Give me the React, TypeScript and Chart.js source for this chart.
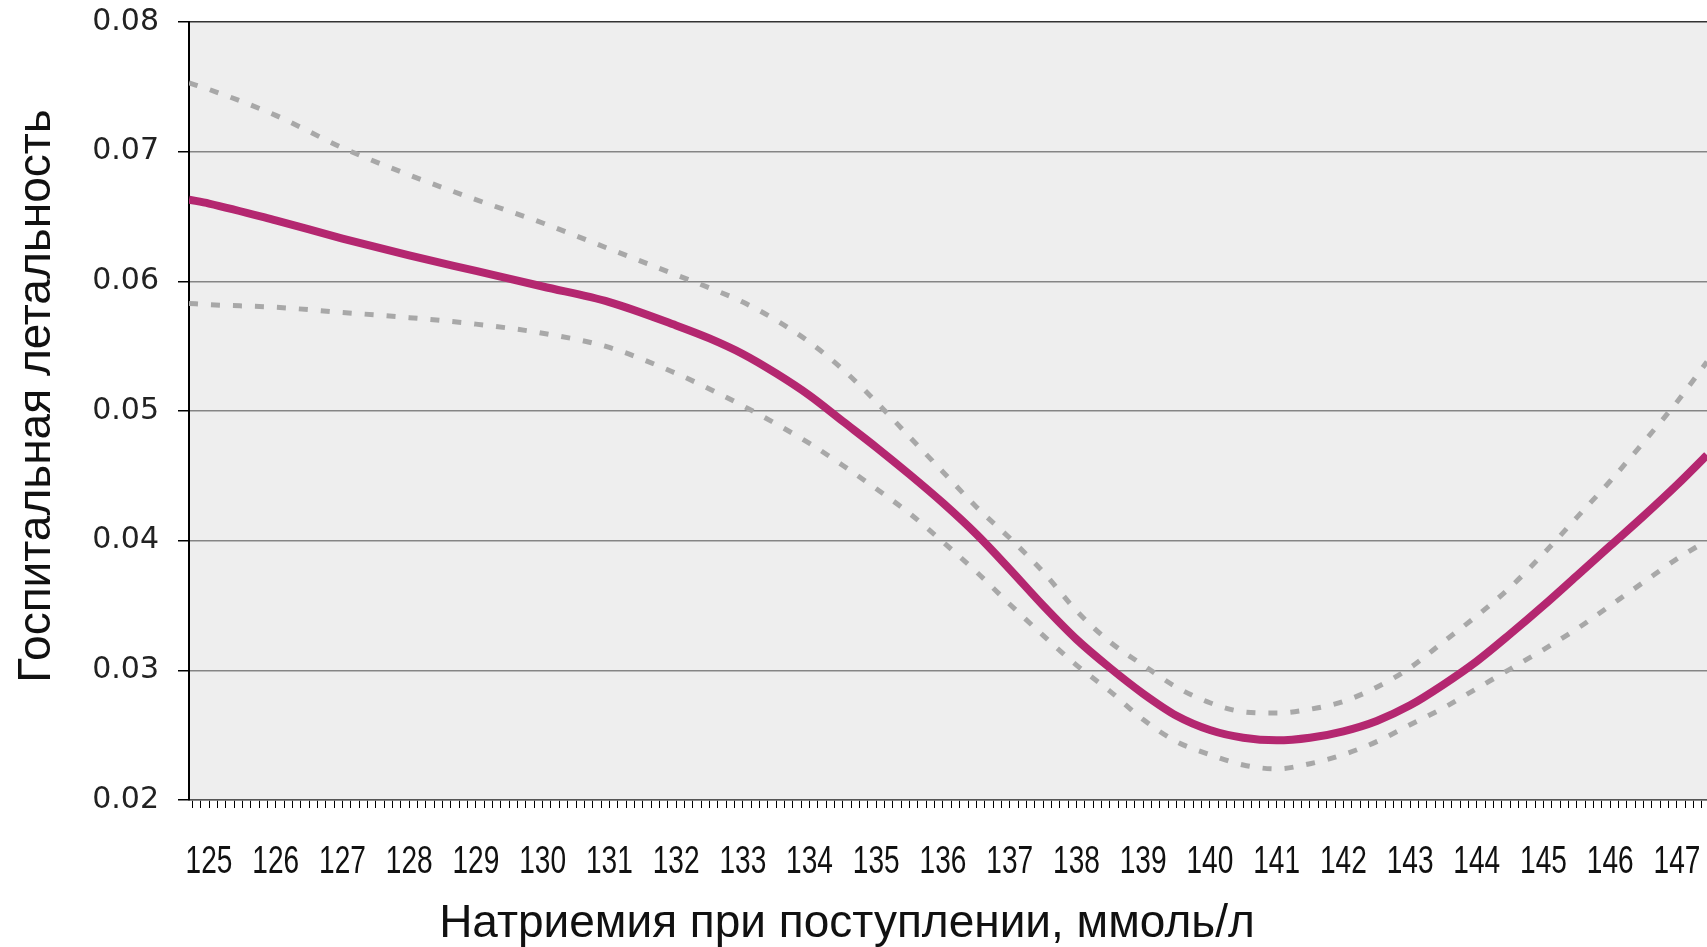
import React, { useEffect, useRef } from "react";
import { Chart, registerables } from "chart.js";

Chart.register(...registerables);

// Sodium at admission, mmol/L
const sodium = [
  124.7, 125, 126, 127, 128, 129, 130, 131, 132, 132.5, 133, 133.5, 134, 134.5,
  135, 135.5, 136, 136.5, 137, 137.5, 138, 138.5, 139, 139.5, 140, 140.5, 141,
  141.5, 142, 142.5, 143, 143.5, 144, 144.5, 145, 145.5, 146, 146.5, 147, 147.45,
];

// Hospital mortality (estimate)
const mortality = [
  0.0663, 0.066, 0.0647, 0.0633, 0.062, 0.0608, 0.0596, 0.0584, 0.0566, 0.0556,
  0.0544, 0.0529, 0.0512, 0.0492, 0.0472, 0.0451, 0.0429, 0.0405, 0.0378, 0.035,
  0.0324, 0.0302, 0.0282, 0.0265, 0.0254, 0.0248, 0.0246, 0.0248, 0.0253, 0.0261,
  0.0273, 0.0289, 0.0307, 0.0328, 0.035, 0.0373, 0.0396, 0.0419, 0.0443, 0.0466,
];

// Upper confidence bound
const upperCI = [
  0.0753, 0.0748, 0.0728, 0.0703, 0.0682, 0.0663, 0.0645, 0.0625, 0.0605, 0.0595,
  0.0584, 0.057, 0.0553, 0.0532, 0.0507, 0.048, 0.0453, 0.0426, 0.0402, 0.0376,
  0.0346, 0.0322, 0.0304, 0.0287, 0.0275, 0.0268, 0.0267, 0.027, 0.0276, 0.0287,
  0.0302, 0.0322, 0.0342, 0.0364, 0.039, 0.0418, 0.0446, 0.0476, 0.0507, 0.0538,
];

// Lower confidence bound
const lowerCI = [
  0.0583, 0.0582, 0.058, 0.0576, 0.0572, 0.0567, 0.056, 0.0549, 0.0529, 0.0517,
  0.0504, 0.049, 0.0475, 0.0458, 0.044, 0.0421, 0.0399, 0.0376, 0.0351, 0.0327,
  0.0304, 0.0284, 0.0262, 0.0245, 0.0235, 0.0227, 0.0224, 0.0228, 0.0235, 0.0245,
  0.0258, 0.0271, 0.0286, 0.0301, 0.0316, 0.0332, 0.035, 0.0368, 0.0386, 0.04,
];

// Labelled x ticks
const xTickLabels = [
  125, 126, 127, 128, 129, 130, 131, 132, 133, 134, 135, 136, 137, 138, 139, 140,
  141, 142, 143, 144, 145, 146, 147,
];

const xMin = 124.7;
const xMax = 147.45;
const yMin = 0.02;
const yMax = 0.08;
const yStep = 0.01;
const xMinorStep = 0.125;

const xTitle = "Натриемия при поступлении, ммоль/л";
const yTitle = "Госпитальная летальность";

const toPoints = (ys: number[]) => sodium.map((x, i) => ({ x, y: ys[i] }));

const decorPlugin = {
  id: "decor",
  beforeDraw(chart: any) {
    const { ctx, chartArea: a } = chart;
    ctx.save();
    ctx.fillStyle = "#eeeeee";
    ctx.fillRect(a.left, a.top, a.right - a.left, a.bottom - a.top);
    ctx.restore();
  },
  afterDraw(chart: any) {
    const { ctx, chartArea: a } = chart;
    const xScale = chart.scales.x;
    ctx.save();
    ctx.fillStyle = "#111111";
    // condensed x tick labels (narrow typeface look)
    ctx.font = "39px 'Liberation Sans', Arial, sans-serif";
    ctx.textAlign = "center";
    ctx.textBaseline = "alphabetic";
    xTickLabels.forEach((v) => {
      const px = xScale.getPixelForValue(v);
      ctx.save();
      ctx.translate(px, a.bottom + 73);
      ctx.scale(0.72, 1);
      ctx.fillText(String(v), 0, 0);
      ctx.restore();
    });
    ctx.textBaseline = "middle";
    ctx.font = "46px 'Liberation Sans', Arial, sans-serif";
    ctx.fillText(xTitle, a.left + 658, chart.height - 23);
    ctx.translate(37, a.top + 374);
    ctx.rotate(-Math.PI / 2);
    ctx.fillText(yTitle, 0, 0);
    ctx.restore();
  },
};

export default function App() {
  const canvasRef = useRef<HTMLCanvasElement | null>(null);

  useEffect(() => {
    if (!canvasRef.current) return;
    const chart = new Chart(canvasRef.current, {
      type: "line",
      data: {
        datasets: [
          {
            label: "Летальность",
            data: toPoints(mortality),
            borderColor: "#B42770",
            borderWidth: 8,
            pointRadius: 0,
            cubicInterpolationMode: "monotone",
            order: 0,
          },
          {
            label: "Верхняя граница",
            data: toPoints(upperCI),
            borderColor: "#A8A8A8",
            borderWidth: 5,
            borderDash: [9, 13],
            pointRadius: 0,
            cubicInterpolationMode: "monotone",
            order: 1,
          },
          {
            label: "Нижняя граница",
            data: toPoints(lowerCI),
            borderColor: "#A8A8A8",
            borderWidth: 5,
            borderDash: [9, 13],
            pointRadius: 0,
            cubicInterpolationMode: "monotone",
            order: 2,
          },
        ],
      },
      options: {
        animation: false,
        responsive: true,
        maintainAspectRatio: false,
        layout: { padding: { top: 22, right: 0, left: 0, bottom: 0 } },
        plugins: {
          legend: { display: false },
          tooltip: { enabled: false },
        },
        scales: {
          x: {
            type: "linear",
            min: xMin,
            max: xMax,
            afterBuildTicks: (scale: any) => {
              const ticks = [];
              const start = Math.ceil(xMin / xMinorStep) * xMinorStep;
              for (let v = start; v <= xMax + 1e-9; v += xMinorStep) {
                ticks.push({ value: Math.round(v * 1000) / 1000 });
              }
              scale.ticks = ticks;
            },
            afterFit: (scale: any) => {
              scale.height = 147;
              scale.paddingLeft = 0;
              scale.paddingRight = 0;
            },
            grid: {
              display: true,
              drawOnChartArea: false,
              drawTicks: true,
              tickLength: 8,
              color: "#000000",
              lineWidth: 1,
            },
            border: { display: true, color: "#555555", width: 1.5 },
            ticks: {
              autoSkip: false,
              maxRotation: 0,
              minRotation: 0,
              padding: 27,
              color: "#111111",
              font: { family: "'Liberation Sans', sans-serif", size: 37 },
              callback: () => "",
            },
          },
          y: {
            type: "linear",
            min: yMin,
            max: yMax,
            afterFit: (scale: any) => {
              scale.width = 189;
              scale.paddingTop = 0;
              scale.paddingBottom = 0;
            },
            grid: {
              display: true,
              drawTicks: true,
              tickLength: 11,
              tickColor: "#000000",
              color: (c: any) =>
                c.tick && Math.abs(c.tick.value - yMax) < 1e-9 ? "#333333" : "#858585",
              lineWidth: 1.5,
            },
            border: { display: true, color: "#000000", width: 2 },
            ticks: {
              stepSize: yStep,
              padding: 19,
              color: "#222222",
              font: { family: "'DejaVu Sans', sans-serif", size: 30 },
              callback: (v: any) => Number(v).toFixed(2),
            },
          },
        },
      },
      plugins: [decorPlugin],
    });
    return () => chart.destroy();
  }, []);

  return (
    <div style={{ position: "fixed", left: 0, top: 0, width: 1707, height: 947, background: "#ffffff" }}>
      <canvas ref={canvasRef} />
    </div>
  );
}
